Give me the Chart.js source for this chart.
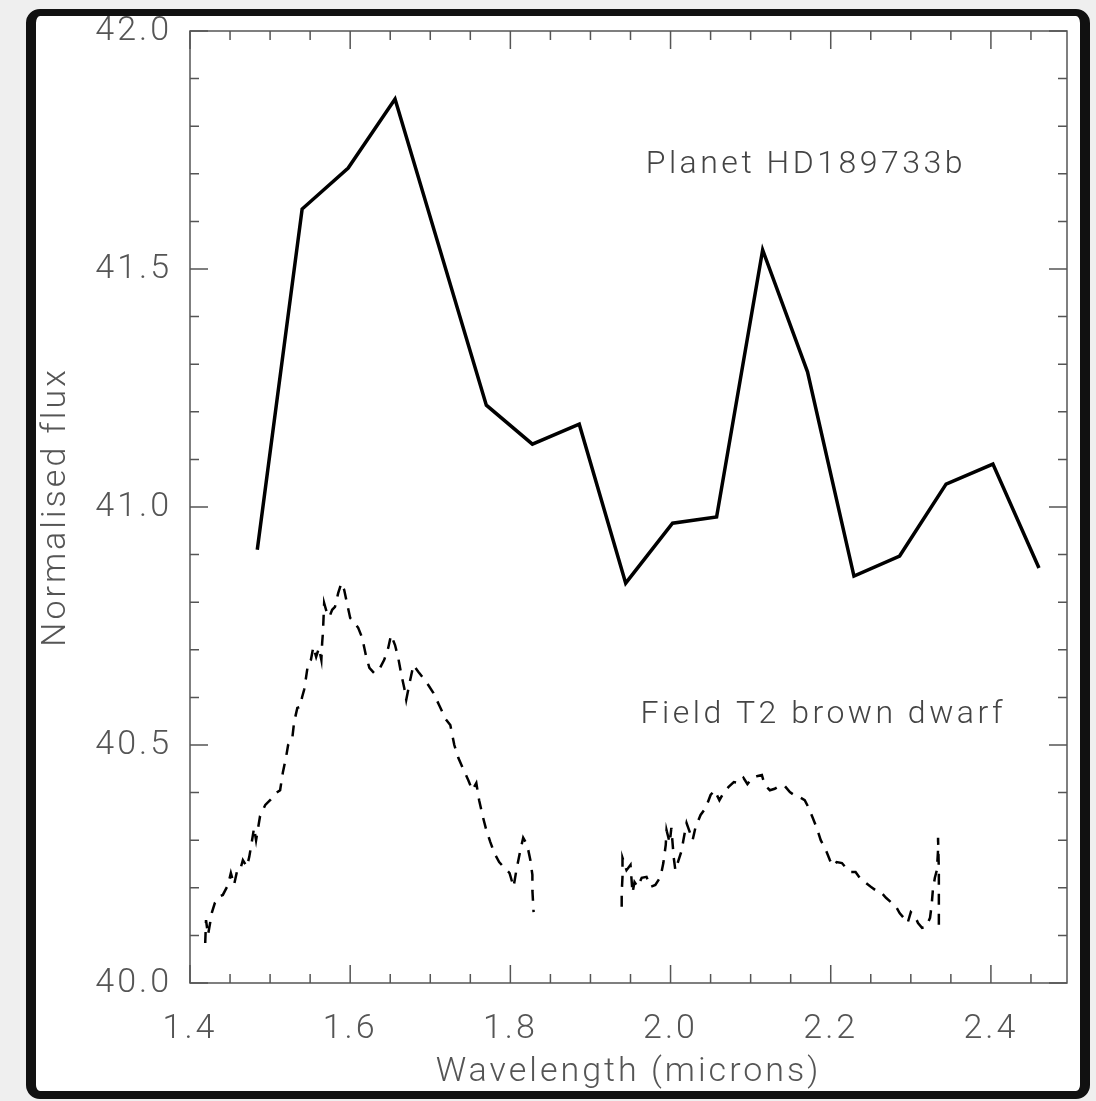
<!DOCTYPE html>
<html>
<head>
<meta charset="utf-8">
<script src="https://cdn.jsdelivr.net/npm/chart.js@4.4.1/dist/chart.umd.min.js"></script>
<style>
    body { margin: 0; background: #efefef; }
    #frame {
        position: absolute; left: 26px; top: 9px; width: 1064px; height: 1090px;
        box-sizing: border-box; background: #fff;
        border: 10px solid #111; border-top-width: 7px; border-bottom-width: 8px;
        border-radius: 14px;
    }
    #chart { position: absolute; left: 0; top: 0; }
</style>
</head>
<body>
<div id="frame"></div>
<canvas id="chart" width="1096" height="1101"></canvas>
<script>
// planet HD189733b (solid)
const planetWavelength = [1.484, 1.540, 1.5975, 1.656, 1.770, 1.8275, 1.886, 1.944, 2.0025,
    2.0575, 2.115, 2.171, 2.229, 2.286, 2.344, 2.4025, 2.460];
const planetFlux = [40.910, 41.626, 41.712, 41.857, 41.214, 41.132, 41.174, 40.840, 40.966,
    40.979, 41.540, 41.284, 40.855, 40.897, 41.048, 41.090, 40.872];

// field T2 brown dwarf (dashed), null = gap between the bands
const dwarfWavelength = [
    1.419, 1.420, 1.4225, 1.4275, 1.431, 1.436, 1.441, 1.4475, 1.451, 1.455,
    1.459, 1.4625, 1.466, 1.471, 1.474, 1.4775, 1.480, 1.4825, 1.4875, 1.494,
    1.500, 1.5075, 1.5125, 1.516, 1.520, 1.5225, 1.5275, 1.530, 1.534, 1.5375,
    1.540, 1.5425, 1.545, 1.5475, 1.551, 1.554, 1.5575, 1.561, 1.564, 1.565,
    1.566, 1.5675, 1.571, 1.574, 1.5775, 1.581, 1.585, 1.589, 1.5925, 1.596,
    1.600, 1.605, 1.610, 1.615, 1.620, 1.624, 1.630, 1.636, 1.6425, 1.6475,
    1.651, 1.656, 1.660, 1.664, 1.6675, 1.670, 1.675, 1.679, 1.685, 1.691,
    1.6975, 1.704, 1.711, 1.719, 1.725, 1.730, 1.735, 1.740, 1.7475, 1.7525,
    1.7575, 1.761, 1.766, 1.770, 1.775, 1.780, 1.786, 1.7925, 1.799, 1.804,
    1.8075, 1.8125, 1.816, 1.821, 1.825, 1.8275, 1.8275, 1.829,
    1.880,
    1.939, 1.939, 1.940, 1.940, 1.945, 1.950, 1.9525, 1.955, 1.959, 1.964,
    1.970, 1.975, 1.981, 1.9875, 1.991, 1.994, 1.995, 1.999, 2.001, 2.004,
    2.006, 2.010, 2.014, 2.016, 2.020, 2.024, 2.0275, 2.031, 2.0375, 2.044,
    2.050, 2.055, 2.061, 2.066, 2.0725, 2.079, 2.085, 2.091, 2.096, 2.1025,
    2.109, 2.114, 2.1175, 2.124, 2.130, 2.136, 2.1425, 2.149, 2.156, 2.1625,
    2.1675, 2.1725, 2.1775, 2.1825, 2.1875, 2.194, 2.199, 2.2025, 2.2075, 2.214,
    2.219, 2.225, 2.231, 2.2375, 2.244, 2.250, 2.256, 2.2625, 2.269, 2.275,
    2.281, 2.286, 2.291, 2.296, 2.300, 2.305, 2.309, 2.314, 2.319, 2.324,
    2.326, 2.3275, 2.330, 2.3325, 2.334, 2.334, 2.335, 2.335, 2.335
];
const dwarfFlux = [
    40.084, 40.132, 40.101, 40.149, 40.168, 40.181, 40.185, 40.206, 40.231, 40.206,
    40.237, 40.237, 40.258, 40.244, 40.265, 40.300, 40.326, 40.300, 40.351, 40.374,
    40.384, 40.399, 40.405, 40.443, 40.475, 40.500, 40.511, 40.548, 40.578, 40.580,
    40.601, 40.616, 40.643, 40.672, 40.679, 40.706, 40.685, 40.704, 40.679, 40.714,
    40.737, 40.798, 40.777, 40.769, 40.784, 40.790, 40.819, 40.840, 40.826, 40.798,
    40.767, 40.758, 40.746, 40.725, 40.685, 40.662, 40.651, 40.658, 40.679, 40.704,
    40.731, 40.710, 40.683, 40.647, 40.620, 40.595, 40.637, 40.668, 40.654, 40.641,
    40.626, 40.609, 40.584, 40.555, 40.542, 40.500, 40.473, 40.454, 40.426, 40.405,
    40.420, 40.384, 40.347, 40.321, 40.296, 40.273, 40.254, 40.242, 40.231, 40.202,
    40.237, 40.279, 40.305, 40.290, 40.258, 40.227, 40.195, 40.149,
    null,
    40.160, 40.189, 40.223, 40.263, 40.237, 40.248, 40.189, 40.212, 40.202, 40.221,
    40.223, 40.202, 40.206, 40.223, 40.252, 40.290, 40.321, 40.294, 40.326, 40.263,
    40.237, 40.258, 40.279, 40.300, 40.336, 40.317, 40.300, 40.326, 40.353, 40.368,
    40.395, 40.405, 40.384, 40.399, 40.412, 40.422, 40.420, 40.431, 40.418, 40.431,
    40.435, 40.437, 40.416, 40.405, 40.408, 40.414, 40.414, 40.401, 40.393, 40.389,
    40.384, 40.368, 40.347, 40.326, 40.300, 40.279, 40.258, 40.246, 40.254, 40.252,
    40.242, 40.233, 40.233, 40.218, 40.210, 40.202, 40.195, 40.191, 40.179, 40.170,
    40.162, 40.147, 40.137, 40.126, 40.149, 40.141, 40.126, 40.116, 40.118, 40.137,
    40.164, 40.195, 40.221, 40.237, 40.279, 40.305, 40.237, 40.174, 40.105
];

const xMin = 1.4, xMax = 2.495, xStep = 0.05, xLabelStep = 0.2;
const yMin = 40.0, yMax = 42.0, yStep = 0.1, yLabelStep = 0.5;

const notes = [
    { text: 'Planet HD189733b', x: 1.969, y: 41.718 },
    { text: 'Field T2 brown dwarf', x: 1.9625, y: 40.563 }
];

const inkColor = '#555';
const fontFamily = 'Roboto, "DejaVu Sans", sans-serif';

function isMajor(v, step) {
    const r = v / step;
    return Math.abs(r - Math.round(r)) < 1e-6;
}

// wide letter spacing for all the text, set before chart.js draws its labels
const spacingPlugin = {
    id: 'spacing',
    beforeDraw(chart) {
        chart.ctx.letterSpacing = '3px';
    }
};

// box + inward ticks on all four sides, like the original plot
const framePlugin = {
    id: 'frame',
    afterDraw(chart) {
        const ctx = chart.ctx;
        const a = chart.chartArea;
        const xs = chart.scales.x, ys = chart.scales.y;
        ctx.save();
        ctx.strokeStyle = inkColor;
        ctx.lineWidth = 1.5;
        ctx.strokeRect(a.left, a.top, a.right - a.left, a.bottom - a.top);
        ctx.beginPath();
        xs.ticks.forEach(t => {
            const px = xs.getPixelForValue(t.value);
            const len = isMajor(t.value, xLabelStep) ? 18 : 9;
            ctx.moveTo(px, a.bottom); ctx.lineTo(px, a.bottom - len);
            ctx.moveTo(px, a.top); ctx.lineTo(px, a.top + len);
        });
        ys.ticks.forEach(t => {
            const py = ys.getPixelForValue(t.value);
            const len = isMajor(t.value, yLabelStep) ? 18 : 9;
            ctx.moveTo(a.left, py); ctx.lineTo(a.left + len, py);
            ctx.moveTo(a.right, py); ctx.lineTo(a.right - len, py);
        });
        ctx.stroke();

        ctx.fillStyle = '#444';
        ctx.font = '300 32px ' + fontFamily;
        ctx.letterSpacing = '3.5px';
        ctx.textBaseline = 'middle';
        notes.forEach(n => {
            ctx.fillText(n.text, xs.getPixelForValue(n.x), ys.getPixelForValue(n.y));
        });
        ctx.restore();
    }
};

new Chart(document.getElementById('chart'), {
    type: 'line',
    data: {
        datasets: [{
            label: 'Planet HD189733b',
            data: planetWavelength.map((w, i) => ({ x: w, y: planetFlux[i] })),
            borderColor: '#000',
            borderWidth: 3.5,
            pointRadius: 0,
            tension: 0
        }, {
            label: 'Field T2 brown dwarf',
            data: dwarfWavelength.map((w, i) => ({ x: w, y: dwarfFlux[i] })),
            borderColor: '#000',
            borderWidth: 2.5,
            borderDash: [11, 9],
            pointRadius: 0,
            tension: 0,
            spanGaps: false
        }]
    },
    options: {
        responsive: false,
        animation: false,
        devicePixelRatio: 1,
        layout: { padding: { top: 31, right: 29, left: 0, bottom: 0 } },
        plugins: { legend: { display: false }, tooltip: { enabled: false } },
        scales: {
            x: {
                type: 'linear',
                min: xMin,
                max: xMax,
                afterFit: s => { s.height = 118; },
                grid: { display: false },
                border: { display: false },
                ticks: {
                    stepSize: xStep,
                    includeBounds: false,
                    autoSkip: false,
                    maxRotation: 0,
                    padding: 18,
                    color: inkColor,
                    font: { family: fontFamily, size: 34, weight: '300' },
                    callback: v => isMajor(v, xLabelStep) ? v.toFixed(1) : ''
                },
                title: {
                    display: true,
                    text: 'Wavelength (microns)',
                    color: inkColor,
                    font: { family: fontFamily, size: 34, weight: '300' },
                    padding: { top: 0, bottom: 8 }
                }
            },
            y: {
                type: 'linear',
                min: yMin,
                max: yMax,
                afterFit: s => { s.width = 190; },
                grid: { display: false },
                border: { display: false },
                ticks: {
                    stepSize: yStep,
                    includeBounds: false,
                    autoSkip: false,
                    padding: 10,
                    color: inkColor,
                    font: { family: fontFamily, size: 34, weight: '300' },
                    callback: v => isMajor(v, yLabelStep) ? v.toFixed(1) : ''
                },
                title: {
                    display: true,
                    text: 'Normalised flux',
                    color: inkColor,
                    font: { family: fontFamily, size: 34, weight: '300' },
                    padding: { top: 36, bottom: 0 }
                }
            }
        }
    },
    plugins: [spacingPlugin, framePlugin]
});
</script>
</body>
</html>
